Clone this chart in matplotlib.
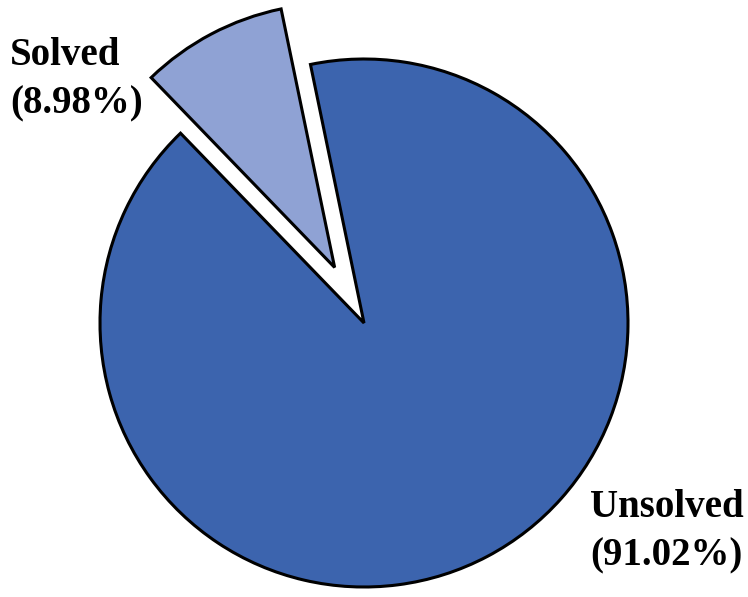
import matplotlib
matplotlib.use('Agg')
import matplotlib.pyplot as plt

labels = ['Solved', 'Unsolved']
shares = [8.98, 91.02]
colors = ['#8FA2D4', '#3C64AE']

W, H = 748, 597
cx, cy, r = 364, 323, 264

fig = plt.figure(figsize=(W / 100, H / 100), dpi=100)
ax = fig.add_axes([0, 0, 1, 1])

ax.pie(shares, colors=colors, startangle=101.7, counterclock=True,
       explode=[0.238, 0], radius=1,
       wedgeprops=dict(edgecolor='black', linewidth=2.2, joinstyle='miter'))

ax.set_aspect('auto')
ax.set_xlim(-cx / r, (W - cx) / r)
ax.set_ylim(-(H - cy) / r, cy / r)
ax.axis('off')

# labels in pixel positions (top-left of text block)
pos = {'Solved': (10, 37), 'Unsolved': (590, 489)}
for name, val in zip(labels, shares):
    px, py = pos[name]
    fig.text(px / W, 1 - py / H, '%s\n(%.2f%%)' % (name, val),
             ha='left', va='top', fontsize=28, fontweight='bold',
             family='Liberation Serif', linespacing=1.4)

fig.savefig('out.png', dpi=100)
